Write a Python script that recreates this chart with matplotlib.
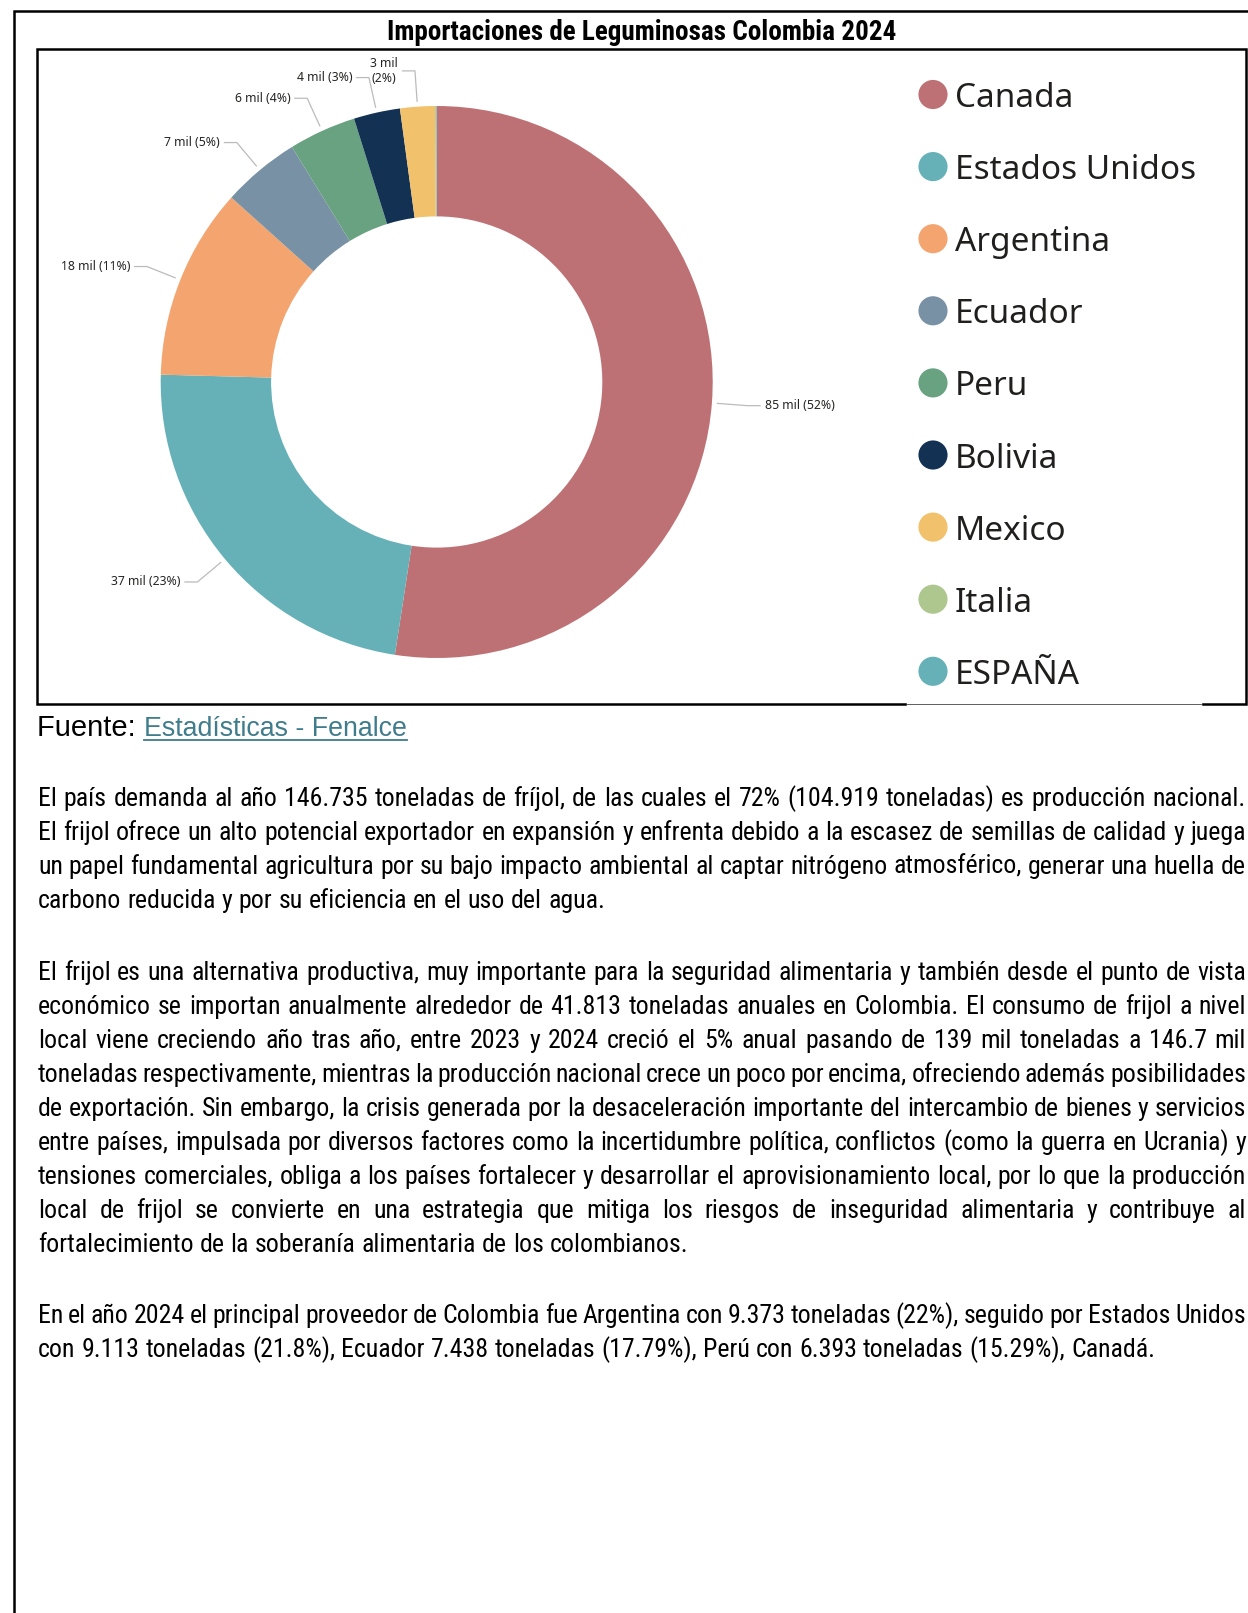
#!/usr/bin/env python3
# Importaciones de leguminosas - dona + texto

import matplotlib
matplotlib.use('Agg')
from matplotlib import pyplot as plt
from matplotlib import font_manager
from matplotlib.patches import Rectangle
import numpy as np

paises = ['Canada', 'Estados Unidos', 'Argentina', 'Ecuador', 'Peru',
          'Bolivia', 'Mexico', 'Italia', 'ESPAÑA']
miles_ton = [85.0, 37.3, 18.2, 7.4, 6.4, 4.4, 3.3, 0.1, 0.05]
colores = ['#BE7174', '#65B1B7', '#F4A46F', '#7891A4', '#68A281',
           '#123153', '#F2C16B', '#AEC78E', '#65B1B7']

titulo = 'Importaciones de Leguminosas Colombia 2024'
fuente = 'Fuente: '
enlace = 'Estadísticas - Fenalce'

parrafos = [
    ['El país demanda al año 146.735 toneladas de fríjol, de las cuales el 72% (104.919 toneladas) es producción nacional.',
     'El frijol ofrece un alto potencial exportador en expansión y enfrenta debido a la escasez de semillas de calidad y juega',
     'un papel fundamental agricultura por su bajo impacto ambiental al captar nitrógeno atmosférico, generar una huella de',
     'carbono reducida y por su eficiencia en el uso del agua.'],
    ['El frijol es una alternativa productiva, muy importante para la seguridad alimentaria y también desde el punto de vista',
     'económico se importan anualmente alrededor de 41.813 toneladas anuales en Colombia. El consumo de frijol a nivel',
     'local viene creciendo año tras año, entre 2023 y 2024 creció el 5% anual pasando de 139 mil toneladas a 146.7 mil',
     'toneladas respectivamente, mientras la producción nacional crece un poco por encima, ofreciendo además posibilidades',
     'de exportación. Sin embargo, la crisis generada por la desaceleración importante del intercambio de bienes y servicios',
     'entre países, impulsada por diversos factores como la incertidumbre política, conflictos (como la guerra en Ucrania) y',
     'tensiones comerciales, obliga a los países fortalecer y desarrollar el aprovisionamiento local, por lo que la producción',
     'local de frijol se convierte en una estrategia que mitiga los riesgos de inseguridad alimentaria y contribuye al',
     'fortalecimiento de la soberanía alimentaria de los colombianos.'],
    ['En el año 2024 el principal proveedor de Colombia fue Argentina con 9.373 toneladas (22%), seguido por Estados Unidos',
     'con 9.113 toneladas (21.8%), Ecuador 7.438 toneladas (17.79%), Perú con 6.393 toneladas (15.29%), Canadá.'],
]

# fuentes
nombres = {f.name for f in font_manager.fontManager.ttflist}
estrecha = next((n for n in ['Liberation Sans Narrow', 'Arial Narrow',
                             'Roboto Condensed', 'Open Sans Condensed']
                 if n in nombres), None)
estiramiento = 'normal'
escala = 1.0
if estrecha is None:
    condensadas = [f for f in font_manager.fontManager.ttflist
                   if f.name == 'DejaVu Sans' and f.stretch == 'condensed']
    if condensadas:
        estrecha, estiramiento, escala = 'DejaVu Sans', 'condensed', 0.85
    else:
        estrecha, escala = 'Liberation Sans', 0.82
ui = 'Noto Sans'

W, H = 1248, 1613
fig = plt.figure(figsize=(W / 100, H / 100), dpi=100)
bg = fig.add_axes([0, 0, 1, 1])
bg.set_xlim(0, W)
bg.set_ylim(H, 0)
bg.axis('off')
renderer = fig.canvas.get_renderer()

# marcos
bg.plot([14, 14, W], [H, 11, 11], color='black', lw=1.8, solid_joinstyle='miter')
bg.add_patch(Rectangle((37, 49), 1209, 655, fill=False, lw=1.8, ec='black'))
bg.add_patch(Rectangle((907, 699), 294, 8, color='white', zorder=3))
bg.plot([907, 1201], [704, 704], color='#444444', lw=0.6, zorder=4)

bg.text(642, 33, titulo, ha='center', va='center', fontsize=19.5 * escala,
        fontweight='bold', family=estrecha, fontstretch=estiramiento)

# dona
cx, cy, r = 436.7, 382, 276
ax = fig.add_axes([(cx - r) / W, (H - cy - r) / H, 2 * r / W, 2 * r / H])
wedges, _ = ax.pie(miles_ton, colors=colores, startangle=90, counterclock=False,
                   radius=1, wedgeprops=dict(width=0.4, edgecolor='none'))
ax.set_xlim(-1, 1)
ax.set_ylim(-1, 1)
ax.axis('off')

total = sum(miles_ton)
for w, v in zip(wedges, miles_ton):
    pct = v / total * 100
    if pct < 1:
        continue
    ang = np.deg2rad((w.theta1 + w.theta2) / 2)
    d = np.array([np.cos(ang), np.sin(ang)])
    p0, p1 = 1.02 * d, 1.13 * d
    lado = 1 if d[0] >= 0 else -1
    p2 = p1 + np.array([lado * 0.045, 0])
    ax.plot([p0[0], p1[0], p2[0]], [p0[1], p1[1], p2[1]], color='#BBBBBB',
            lw=0.9, clip_on=False)
    etiqueta = f'{v:.0f} mil ({pct:.0f}%)'
    if abs(d[0]) < 0.1:
        etiqueta = etiqueta.replace(' (', '\n(')
    ax.text(p2[0] + lado * 0.016, p2[1], etiqueta, ha='left' if lado > 0 else 'right',
            va='center', multialignment='center', fontsize=8.8, family=ui,
            color='#252423')

# leyenda
for i, (p, c) in enumerate(zip(paises, colores)):
    y = 94.5 + i * 72.1
    bg.scatter([933], [y], s=440, color=c, edgecolors='none')
    bg.text(955, y, p, va='center_baseline', ha='left', fontsize=24, family=ui,
            color='#201F1E')

# fuente
t = bg.text(37, 736, fuente, va='baseline', fontsize=21, family='Liberation Sans')
x_link = 37 + t.get_window_extent(renderer).width
tl = bg.text(x_link, 736, enlace, va='baseline', fontsize=19.3,
             family='Liberation Sans', color='#3F7C8C')
bg.plot([x_link, x_link + tl.get_window_extent(renderer).width], [740, 740],
        color='#3F7C8C', lw=1.3)

# texto justificado
x0, x1 = 38, 1246
tam = 18.6 * escala
sp_a = bg.text(0, 0, 'a a', fontsize=tam, family=estrecha, fontstretch=estiramiento)
sp_b = bg.text(0, 0, 'aa', fontsize=tam, family=estrecha, fontstretch=estiramiento)
espacio = sp_a.get_window_extent(renderer).width - sp_b.get_window_extent(renderer).width
sp_a.remove()
sp_b.remove()

inicios = [806, 980, 1323]
interlinea = 33.95
for par, y0 in zip(parrafos, inicios):
    for j, linea in enumerate(par):
        y = y0 + j * interlinea
        palabras = linea.split(' ')
        objs = [bg.text(0, y, p, va='baseline', fontsize=tam, family=estrecha,
                        fontstretch=estiramiento) for p in palabras]
        anchos = [o.get_window_extent(renderer).width for o in objs]
        if j == len(par) - 1:
            hueco = espacio
        else:
            hueco = (x1 - x0 - sum(anchos)) / (len(palabras) - 1)
        x = x0
        for o, a in zip(objs, anchos):
            o.set_x(x)
            x += a + hueco

fig.savefig('out.png', dpi=100)
